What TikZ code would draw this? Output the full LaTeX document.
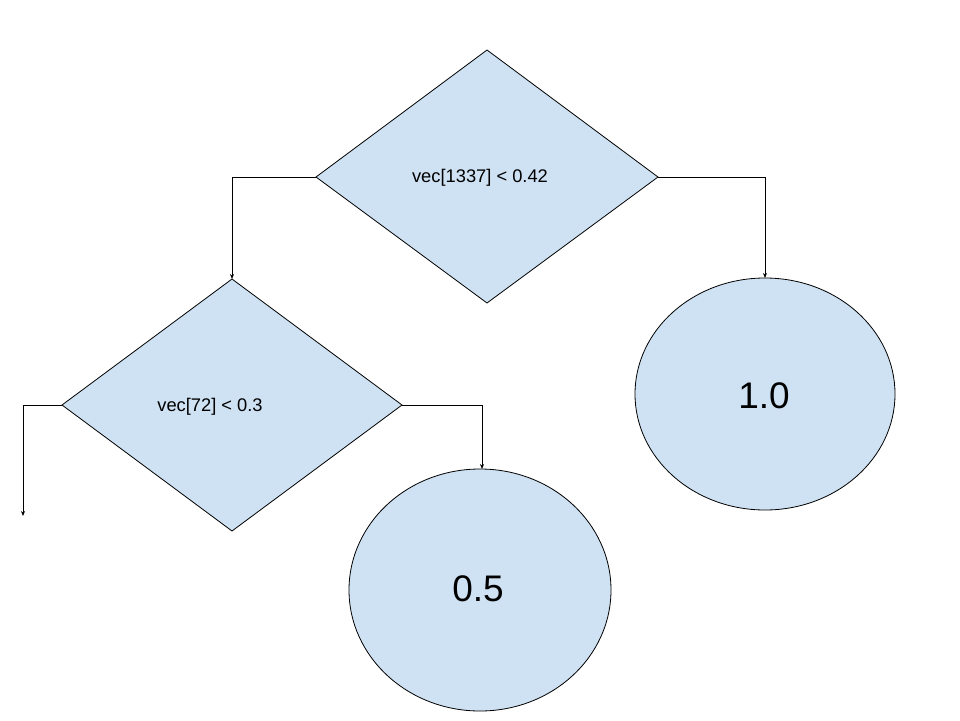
\documentclass[tikz,border=0pt]{standalone}
\usepackage{fontspec}
\setmainfont{Liberation Sans}
\usetikzlibrary{shapes.geometric,arrows.meta}
\definecolor{boxfill}{HTML}{CFE2F3}
\begin{document}
\begin{tikzpicture}[x=1pt,y=-1pt,
  shp/.style={draw=black,fill=boxfill,line width=0.8pt},
  conn/.style={draw=black,line width=0.8pt,-{Stealth[length=5pt,width=4pt]}},
  small/.style={font=\fontsize{18.3}{21}\selectfont},
  big/.style={font=\fontsize{37}{42}\selectfont}]
\useasboundingbox (0,0) rectangle (960,720);
% top diamond
\path[shp] (316,177) coordinate (d1l) -- (487,50) -- (658,177) coordinate (d1r) -- (487,303) -- cycle;
\node[small] (t1) at (480,178) {vec[1337] < 0.42};
% left diamond
\path[shp] (62,405) coordinate (d2l) -- (232,279) coordinate (d2t) -- (402,405) coordinate (d2r) -- (232,531) -- cycle;
\node[small] (t2) at (210,407) {vec[72] < 0.3};
% ellipses
\draw[shp] (765,394) ellipse [x radius=130, y radius=116];
\coordinate (e1t) at (765,278);
\node[big] (v1) at (764,396) {1.0};
\draw[shp] (480,590) ellipse [x radius=131, y radius=121];
\coordinate (e2t) at (482,469);
\node[big] (v2) at (478,589) {0.5};
\coordinate (free) at (23,516);
% connectors
\draw[conn] (d1l) -| (d2t);
\draw[conn] (d1r) -| (e1t);
\draw[conn] (d2l) -| (free);
\draw[conn] (d2r) -| (e2t);
\end{tikzpicture}
\end{document}
